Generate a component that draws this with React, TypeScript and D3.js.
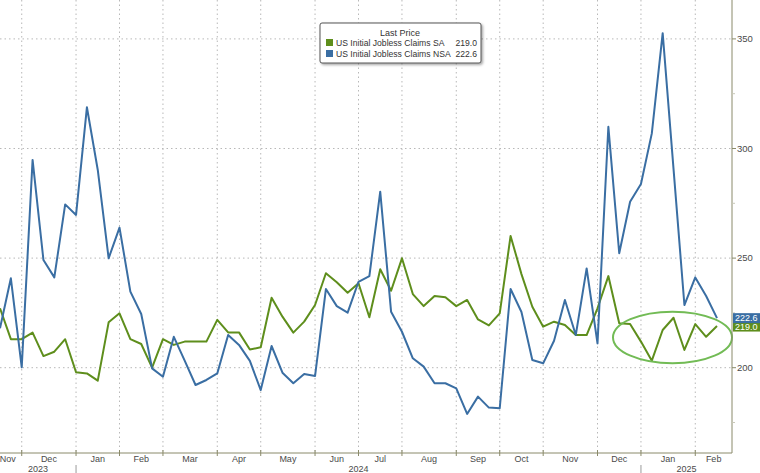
import React from "react";
import * as d3 from "d3";

const nsaValues: number[] = [
  218.0, 240.8, 200.2, 294.8, 249.1, 241.2, 274.5, 269.7, 318.8, 290.2,
  249.9, 263.9, 234.7, 224.5, 199.7, 195.9, 214.1, 203.2, 192.1, 194.4,
  197.4, 214.9, 210.4, 203.1, 189.8, 209.9, 197.7, 192.9, 197.1, 196.2,
  235.9, 228.1, 225.1, 239.2, 241.8, 280.3, 225.5, 216.4, 204.3, 200.5,
  192.9, 192.9, 190.6, 178.9, 186.8, 181.8, 181.5, 235.9, 225.4, 203.5,
  202.0, 212.3, 230.9, 214.9, 245.3, 211.1, 309.9, 252.2, 275.7, 283.8,
  306.9, 352.6, 290.6, 228.6, 241.2, 232.7, 222.6,
];

const saValues: number[] = [
  227.1, 213.0, 213.0, 216.0, 205.3, 207.3, 213.0, 197.9, 197.4, 194.1,
  220.7, 224.8, 213.0, 210.8, 200.0, 213.0, 210.4, 211.9, 211.9, 211.9,
  221.8, 216.1, 216.1, 208.3, 209.3, 231.9, 223.3, 216.0, 221.0, 228.6,
  243.1, 239.0, 234.2, 238.5, 223.0, 244.9, 235.1, 249.9, 233.6, 228.1,
  232.7, 232.1, 228.1, 230.9, 222.0, 219.3, 224.8, 260.1, 242.7, 227.8,
  218.7, 221.0, 219.5, 214.9, 214.9, 227.1, 241.8, 220.3, 219.9, 211.9,
  203.2, 217.2, 222.8, 208.1, 219.9, 214.1, 219.0,
];

// month boundary ticks (week index), labels shown between consecutive ticks
const monthTickIdx: number[] = [2, 7, 11, 15, 20, 24, 29, 33, 37, 42, 46, 50, 55, 59, 64];
const monthLabels: string[] = ["Nov", "Dec", "Jan", "Feb", "Mar", "Apr", "May", "Jun", "Jul", "Aug", "Sep", "Oct", "Nov", "Dec", "Jan", "Feb"];
const yearLabels: string[] = ["2023", "2024", "2025"];
const yearBoundaryIdx: number[] = [7, 59];

const yTicks: number[] = [200, 250, 300, 350];
const yMinorTicks: number[] = [175, 225, 275, 325];

const legendTitle = "Last Price";
const seriesNames: string[] = ["US Initial Jobless Claims SA", "US Initial Jobless Claims NSA"];
const lastValues: string[] = ["219.0", "222.6"];

const GREEN = "#5e8e1c";
const BLUE = "#3a6ea3";
const FONT = "'Liberation Sans', Arial, sans-serif";

export default function App() {
  const W = 760;
  const H = 473;
  const plotL = 0;
  const plotR = 732;
  const plotT = 0;
  const plotB = 453;

  const x = d3.scaleLinear().domain([0, 66]).range([0, 717]);
  const y = d3.scaleLinear().domain([200, 350]).range([367.7, 38.9]);

  const line = d3
    .line<number>()
    .x((_, i) => x(i))
    .y((d) => y(d));

  const tickXs = monthTickIdx.map((i) => x(i));
  const bounds = [plotL, ...tickXs, plotR];
  const yearBounds = [plotL, ...yearBoundaryIdx.map((i) => x(i)), plotR];

  const gridColor = "#b8b8b8";
  const axisColor = "#8a8a6a";
  const textColor = "#4a4a4a";

  return (
    <svg width={W} height={H} style={{ position: "absolute", left: 0, top: 0, background: "#fff" }}>
      <defs>
        <clipPath id="plotClip">
          <rect x={plotL} y={plotT} width={plotR - plotL} height={plotB - plotT} />
        </clipPath>
        <filter id="shadow" x="-10%" y="-10%" width="130%" height="140%">
          <feDropShadow dx="1.5" dy="1.5" stdDeviation="1" floodColor="#000" floodOpacity="0.35" />
        </filter>
      </defs>
      <rect x={0} y={0} width={W} height={H} fill="#fff" />

      {/* vertical gridlines */}
      {tickXs.map((tx, i) => (
        <line key={"vg" + i} x1={tx} x2={tx} y1={plotT} y2={plotB} stroke={gridColor} strokeWidth={1} strokeDasharray="1.5,3" />
      ))}
      {/* horizontal gridlines */}
      {yTicks.map((v) => (
        <line key={"hg" + v} x1={plotL} x2={plotR} y1={y(v)} y2={y(v)} stroke={gridColor} strokeWidth={1} strokeDasharray="1.5,3" />
      ))}

      {/* series lines */}
      <g clipPath="url(#plotClip)">
        <path d={line(saValues) || ""} fill="none" stroke={GREEN} strokeWidth={2} strokeLinejoin="round" />
        <path d={line(nsaValues) || ""} fill="none" stroke={BLUE} strokeWidth={2} strokeLinejoin="round" />
      </g>

      {/* highlight ellipse */}
      <ellipse cx={672.5} cy={y(213.8)} rx={59.5} ry={25.8} fill="none" stroke="#72bb55" strokeWidth={2} />

      {/* right axis */}
      <line x1={plotR} x2={plotR} y1={plotT} y2={plotB} stroke={axisColor} strokeWidth={1} />
      {yTicks.map((v) => (
        <g key={"yt" + v}>
          <line x1={plotR} x2={plotR + 4} y1={y(v)} y2={y(v)} stroke={axisColor} />
          <text x={plotR + 5} y={y(v)} dy="0.35em" fontSize={9.5} fontFamily={FONT} fill={textColor}>
            {v}
          </text>
        </g>
      ))}
      {yMinorTicks.map((v) => (
        <line key={"ym" + v} x1={plotR} x2={plotR + 3} y1={y(v)} y2={y(v)} stroke="#c8c8b8" />
      ))}

      {/* bottom axis */}
      <line x1={plotL} x2={plotR} y1={plotB} y2={plotB} stroke={axisColor} strokeWidth={1} />
      {tickXs.map((tx, i) => (
        <line key={"xt" + i} x1={tx} x2={tx} y1={plotB - 3} y2={plotB + 3} stroke={axisColor} />
      ))}
      {monthLabels.map((m, i) => (
        <text key={"ml" + i} x={(bounds[i] + bounds[i + 1]) / 2 - (i === 0 ? 3 : 0)} y={458.5} dy="0.35em" fontSize={9} fontFamily={FONT} fill={textColor} textAnchor="middle">
          {m}
        </text>
      ))}
      {yearBoundaryIdx.map((idx, i) => (
        <line key={"yb" + i} x1={x(idx)} x2={x(idx)} y1={465} y2={H} stroke="#9a9a9a" />
      ))}
      {yearLabels.map((yl, i) => (
        <text key={"yl" + i} x={(yearBounds[i] + yearBounds[i + 1]) / 2} y={469} dy="0.35em" fontSize={9} fontFamily={FONT} fill={textColor} textAnchor="middle">
          {yl}
        </text>
      ))}

      {/* last value tags */}
      <g>
        <rect x={plotR + 1} y={y(219.0) - 4.5} width={27} height={10} fill={GREEN} />
        <text x={plotR + 3} y={y(219.0) + 0.5} dy="0.35em" fontSize={9} fontFamily={FONT} fill="#fff">
          {lastValues[0]}
        </text>
        <rect x={plotR + 1} y={y(222.6) - 5} width={27} height={10} fill={BLUE} />
        <text x={plotR + 3} y={y(222.6)} dy="0.35em" fontSize={9} fontFamily={FONT} fill="#fff">
          {lastValues[1]}
        </text>
      </g>

      {/* legend */}
      <g>
        <rect x={320} y={23} width={161} height={40} rx={2} fill="#fff" stroke="#555" strokeWidth={1} filter="url(#shadow)" />
        <text x={400} y={33} dy="0.35em" fontSize={9} fontFamily={FONT} fill="#333" textAnchor="middle">
          {legendTitle}
        </text>
        {seriesNames.map((s, i) => (
          <g key={"lg" + i}>
            <rect x={326} y={39 + i * 11} width={7} height={7} fill={i === 0 ? GREEN : BLUE} />
            <text x={336} y={42.5 + i * 11} dy="0.35em" fontSize={8.6} fontFamily={FONT} fill="#333">
              {s}
            </text>
            <text x={477} y={42.5 + i * 11} dy="0.35em" fontSize={8.6} fontFamily={FONT} fill="#333" textAnchor="end">
              {lastValues[i]}
            </text>
          </g>
        ))}
      </g>
    </svg>
  );
}
